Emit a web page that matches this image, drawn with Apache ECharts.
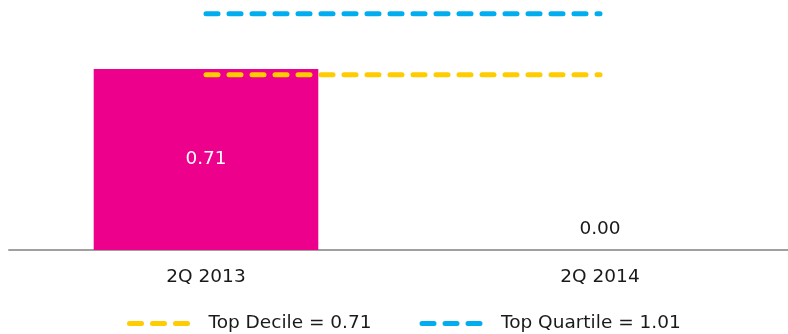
<!DOCTYPE html>
<html>
<head>
<meta charset="utf-8">
<script src="https://cdn.jsdelivr.net/npm/echarts@6/dist/echarts.min.js"></script>
<style>
  html, body { margin: 0; padding: 0; background: #fff; }
  #chart { width: 788px; height: 334px; }
</style>
</head>
<body>
<div id="chart"></div>
<script>
// chart data
var categories = ['2Q 2013', '2Q 2014'];
var barValues = [0.71, 0.00];
var topDecile = [0.71, 0.71];
var topQuartile = [1.01, 1.01];
var seriesNames = ['Top Decile = 0.71', 'Top Quartile = 1.01'];

var FONT = 'DejaVu Sans, Verdana, sans-serif';
var DASH = [12, 11];

var chart = echarts.init(document.getElementById('chart'));

// bars with a value fit inside get a white label, empty ones get a dark label above
var barData = barValues.map(function (v) {
    if (v > 0) {
        return { value: v, label: { position: 'inside', color: '#fff' } };
    }
    return { value: v, label: { position: 'top', distance: 11, color: '#1a1a1a' } };
});

var dashLine = function (color) {
    return { color: color, width: 5, type: DASH, cap: 'round' };
};

var option = {
    animation: false,
    textStyle: { fontFamily: FONT },
    // the plot runs a bit past the right edge, as in the original
    grid: { left: 9, width: 788, top: 10, bottom: 84, outerBoundsMode: 'none' },
    legend: {
        data: seriesNames,
        left: 122,
        top: 309,
        itemWidth: 62,
        itemHeight: 6,
        itemGap: 48,
        itemStyle: { opacity: 0 },   // hide the marker, keep only the dashes
        lineStyle: { width: 5, type: DASH, cap: 'round' },
        textStyle: { fontFamily: FONT, fontSize: 18.5, color: '#1a1a1a', padding: [0, 0, 0, 12] }
    },
    xAxis: {
        type: 'category',
        data: categories,
        axisLine: { lineStyle: { color: '#a0a0a0', width: 2 } },
        axisTick: { show: false },
        axisLabel: { fontFamily: FONT, fontSize: 18.5, color: '#1a1a1a', margin: 18 }
    },
    yAxis: [
        { type: 'value', min: 0, max: 0.9414, show: false, splitLine: { show: false } },
        { type: 'value', min: -0.1521, max: 1.0282, show: false, splitLine: { show: false } }
    ],
    series: [
        {
            type: 'bar',
            data: barData,
            barCategoryGap: '43%',
            itemStyle: { color: '#EC008C' },
            label: {
                show: true,
                fontFamily: FONT,
                fontSize: 18.5,
                formatter: function (p) { return p.value.toFixed(2); }
            }
        },
        {
            name: seriesNames[0],
            type: 'line',
            yAxisIndex: 1,
            data: topDecile,
            symbol: 'none',
            itemStyle: { color: '#FFCC00' },
            lineStyle: dashLine('#FFCC00')
        },
        {
            name: seriesNames[1],
            type: 'line',
            yAxisIndex: 1,
            data: topQuartile,
            symbol: 'none',
            itemStyle: { color: '#00AEEF' },
            lineStyle: dashLine('#00AEEF')
        }
    ]
};

chart.setOption(option);
</script>
</body>
</html>
